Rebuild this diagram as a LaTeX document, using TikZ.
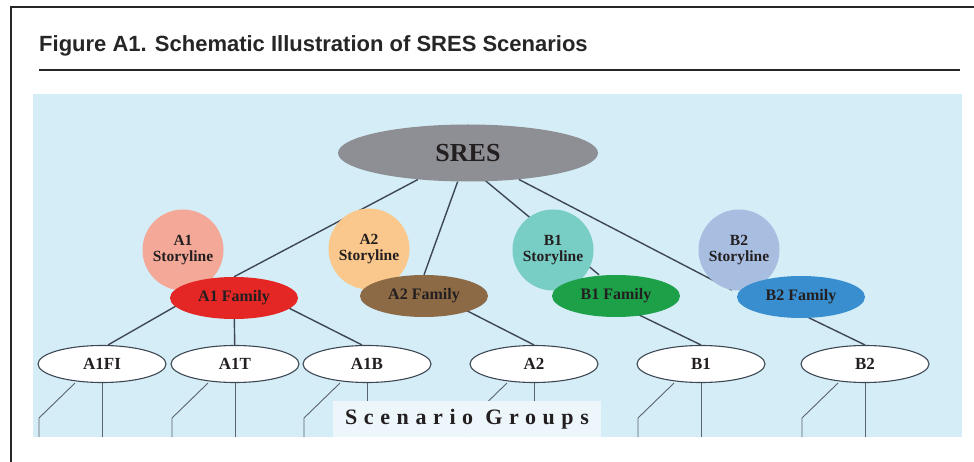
\documentclass[tikz,border=0pt]{standalone}
\usepackage{fontspec}
\setmainfont{Liberation Serif}
\newfontfamily\titlefont{Liberation Sans}
\newfontfamily\spacedfont[LetterSpace=30]{Liberation Serif}
\usepackage{xcolor}
\usetikzlibrary{shapes.geometric,backgrounds}
\definecolor{panelblue}{RGB}{212,237,247}
\definecolor{labelfill}{RGB}{236,246,251}
\definecolor{linegray}{RGB}{62,72,84}
\definecolor{textdark}{RGB}{35,30,32}
\definecolor{sresgray}{RGB}{142,143,148}
\definecolor{aonestory}{RGB}{244,168,152}
\definecolor{atwostory}{RGB}{250,200,140}
\definecolor{bonestory}{RGB}{120,205,196}
\definecolor{btwostory}{RGB}{168,190,225}
\definecolor{aonefam}{RGB}{228,38,36}
\definecolor{atwofam}{RGB}{140,106,70}
\definecolor{bonefam}{RGB}{28,160,72}
\definecolor{btwofam}{RGB}{56,142,206}

\begin{document}
\begin{tikzpicture}[x=1pt,y=-1pt,
    link/.style={draw=linegray,line width=1.4pt},
    leg/.style={draw=linegray!85,line width=0.9pt},
    story/.style={circle,minimum size=81pt,inner sep=0pt,align=center,
      font=\fontsize{15.5}{16}\selectfont\bfseries,text=textdark},
    family/.style={ellipse,minimum width=128pt,minimum height=42pt,inner sep=0pt,
      font=\fontsize{16}{16}\selectfont\bfseries,text=textdark},
    scen/.style={ellipse,draw=linegray,line width=1.1pt,fill=white,
      minimum width=128pt,minimum height=37pt,inner sep=0pt,
      font=\fontsize{17}{17}\selectfont\bfseries,text=textdark}]
    \useasboundingbox (0,0) rectangle (974,462);

    % Frame and title
    \draw[line width=2pt,black!85] (11,462) -- (11,7) -- (974,7);
    \node[anchor=base west,inner sep=0pt,text=black!85,
      font=\titlefont\bfseries\fontsize{22}{22}\selectfont] (title) at (39,52)
      {Figure A1. Schematic Illustration of SRES Scenarios};
    \draw[line width=2.4pt,black!85] (39,70) -- (960,70);

    \begin{scope}[on background layer]
    \fill[panelblue] (33,94) rectangle (962,437);
    \end{scope}
    \coordinate (kink) at (0,418);
    \coordinate (pbot) at (0,437);

    % Top node
    \node[ellipse,fill=sresgray,minimum width=260pt,minimum height=57pt,inner sep=0pt,
      font=\fontsize{26}{26}\selectfont\bfseries,text=textdark] (sres) at (468,153) {SRES};

    % Storylines and families
    \node[story,fill=aonestory] (a1story) at (183,250) {A1\\Storyline};
    \node[story,fill=atwostory] (a2story) at (369,249) {A2\\Storyline};
    \node[story,fill=bonestory] (b1story) at (553,250) {B1\\Storyline};
    \node[story,fill=btwostory] (b2story) at (739,250) {B2\\Storyline};

    \node[family,fill=aonefam] (a1fam) at (234,298) {A1 Family};
    \node[family,fill=atwofam] (a2fam) at (424,296) {A2 Family};
    \node[family,fill=bonefam] (b1fam) at (616,296) {B1 Family};
    \node[family,fill=btwofam] (b2fam) at (801,297) {B2 Family};

    % Scenario groups
    \node[scen] (a1fi) at (102,364) {A1FI};
    \node[scen] (a1t) at (235,364) {A1T};
    \node[scen] (a1b) at (367,364) {A1B};
    \node[scen] (a2) at (534,364) {A2};
    \node[scen] (b1) at (701,364) {B1};
    \node[scen] (b2) at (865,364) {B2};

    \node[fill=labelfill,minimum width=268pt,minimum height=36pt,inner sep=0pt,
      font=\spacedfont\bfseries\fontsize{22}{22}\selectfont,text=textdark]
      (groups) at (467,419) {Scenario Groups};

    % Connectors
    \begin{scope}[on background layer]
    \draw[link] (sres) -- (a1fam.north);
    \draw[link] (sres) -- (a2fam.north);
    \draw[link] ([xshift=-16pt]sres.center) -- ([xshift=-17pt]b1fam.north);
    \draw[link] (sres) -- (b2story.-100);

    \draw[link] ([xshift=-44pt]a1fam.center) -- ([xshift=6pt]a1fi.north);
    \draw[link] (a1fam) -- (a1t);
    \draw[link] ([xshift=35pt]a1fam.center) -- ([xshift=-5pt]a1b.north);
    \draw[link] ([xshift=14pt]a2fam.center) -- (a2.north);
    \draw[link] ([xshift=-16pt]b1fam.center) -- (b1.north);
    \draw[link] ([xshift=-35pt]b2fam.center) -- (b2.north);

    \foreach \n in {a1fi,a1t,a1b,a2,b1,b2}{
      \path ([xshift=-63pt]\n.center) coordinate (\n-l);
      \coordinate (\n-bend) at (\n-l |- kink);
      \coordinate (\n-foot) at (\n-l |- pbot);
      \coordinate (\n-end) at (\n.center |- pbot);
      \draw[leg] ([xshift=-27pt]\n.south) -- (\n-bend) -- (\n-foot);
      \draw[leg] (\n.south) -- (\n-end);
    }
    \end{scope}
\end{tikzpicture}
\end{document}
